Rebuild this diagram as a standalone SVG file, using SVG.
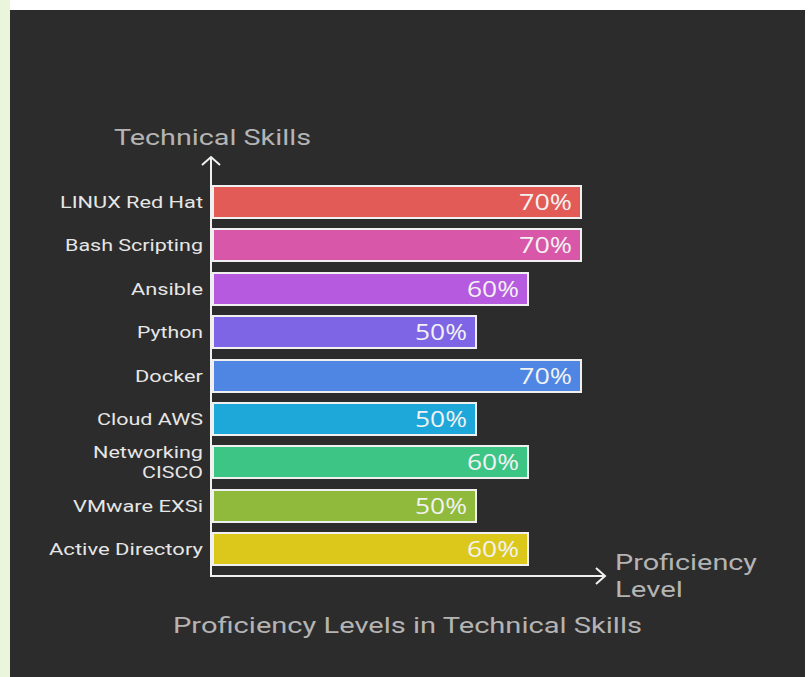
<svg xmlns="http://www.w3.org/2000/svg" width="808" height="677" viewBox="0 0 808 677">
<style>
.lbl{font-family:Roboto,"Liberation Sans",sans-serif;font-size:16.5px;fill:#e6e6e6;text-anchor:end}
.pct{font-family:"Open Sans","Noto Sans",sans-serif;font-size:22px;fill:#f2f2f2;text-anchor:end}
.ax{font-family:Roboto,"Liberation Sans",sans-serif;font-size:22px;fill:#b4b4b4}
.bar{stroke:#f0f0f0;stroke-width:2}
.axis{stroke:#f0f0f0;stroke-width:2;fill:none}
</style>
<rect x="0" y="0" width="808" height="677" fill="#ffffff"/>
<rect x="0" y="0" width="10" height="677" fill="#ebf5db"/>
<rect x="10" y="10" width="795" height="667" fill="#2c2c2c"/>
<g id="connectors">
<path class="axis" d="M211 577 V158 M202 165 L211 157 L220 165"/>
<path class="axis" d="M210 576 H604 M596 568 L605 576 L596 584"/>
</g>
<text class="ax" x="114" y="145" textLength="197" lengthAdjust="spacingAndGlyphs">Technical Skills</text>
<text class="ax" x="615" y="570" textLength="142" lengthAdjust="spacingAndGlyphs">Proficiency</text>
<text class="ax" x="615" y="597" textLength="68" lengthAdjust="spacingAndGlyphs">Level</text>
<text class="ax" x="173" y="633" textLength="469" lengthAdjust="spacingAndGlyphs">Proficiency Levels in Technical Skills</text>
<g id="linux"><rect class="bar" x="213" y="186" width="368" height="32" fill="#e35b56"/><text class="lbl" x="203" y="208" textLength="143" lengthAdjust="spacingAndGlyphs">LINUX Red Hat</text><text class="pct" x="572" y="210" textLength="53" lengthAdjust="spacingAndGlyphs">70%</text></g>
<g id="bash"><rect class="bar" x="213" y="229" width="368" height="32" fill="#d957a8"/><text class="lbl" x="203" y="251" textLength="138" lengthAdjust="spacingAndGlyphs">Bash Scripting</text><text class="pct" x="572" y="253" textLength="53" lengthAdjust="spacingAndGlyphs">70%</text></g>
<g id="ansible"><rect class="bar" x="213" y="273" width="315" height="32" fill="#b65ae0"/><text class="lbl" x="203" y="295" textLength="72" lengthAdjust="spacingAndGlyphs">Ansible</text><text class="pct" x="519" y="297" textLength="52" lengthAdjust="spacingAndGlyphs">60%</text></g>
<g id="python"><rect class="bar" x="213" y="316" width="263" height="32" fill="#7d65e6"/><text class="lbl" x="203" y="338" textLength="66" lengthAdjust="spacingAndGlyphs">Python</text><text class="pct" x="467" y="340" textLength="52" lengthAdjust="spacingAndGlyphs">50%</text></g>
<g id="docker"><rect class="bar" x="213" y="360" width="368" height="32" fill="#4f86e3"/><text class="lbl" x="203" y="382" textLength="68" lengthAdjust="spacingAndGlyphs">Docker</text><text class="pct" x="572" y="384" textLength="53" lengthAdjust="spacingAndGlyphs">70%</text></g>
<g id="cloud"><rect class="bar" x="213" y="403" width="263" height="32" fill="#1ea8d9"/><text class="lbl" x="203" y="425" textLength="106" lengthAdjust="spacingAndGlyphs">Cloud AWS</text><text class="pct" x="467" y="427" textLength="52" lengthAdjust="spacingAndGlyphs">50%</text></g>
<g id="networking"><rect class="bar" x="213" y="446" width="315" height="32" fill="#3cc585"/><text class="lbl" x="203" y="458" textLength="110" lengthAdjust="spacingAndGlyphs">Networking</text><text class="lbl" x="203" y="478" textLength="61" lengthAdjust="spacingAndGlyphs">CISCO</text><text class="pct" x="519" y="470" textLength="52" lengthAdjust="spacingAndGlyphs">60%</text></g>
<g id="vmware"><rect class="bar" x="213" y="490" width="263" height="32" fill="#8fba3c"/><text class="lbl" x="203" y="512" textLength="130" lengthAdjust="spacingAndGlyphs">VMware EXSi</text><text class="pct" x="467" y="514" textLength="52" lengthAdjust="spacingAndGlyphs">50%</text></g>
<g id="ad"><rect class="bar" x="213" y="533" width="315" height="32" fill="#dcc81b"/><text class="lbl" x="203" y="555" textLength="154" lengthAdjust="spacingAndGlyphs">Active Directory</text><text class="pct" x="519" y="557" textLength="52" lengthAdjust="spacingAndGlyphs">60%</text></g>
</svg>
